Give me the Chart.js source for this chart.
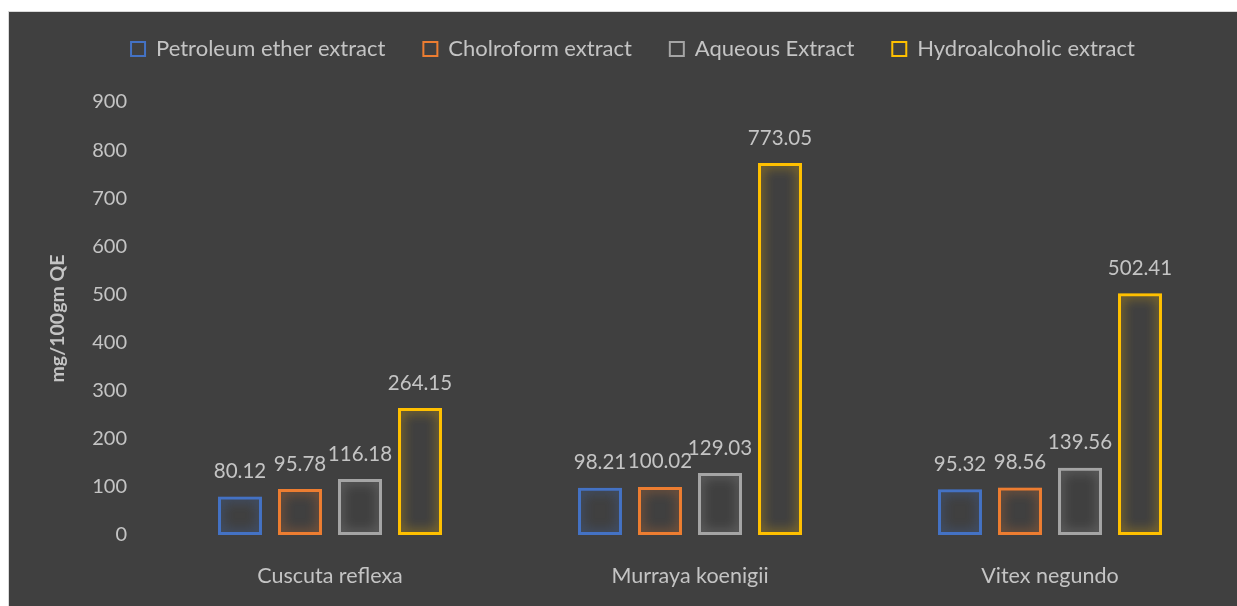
<!DOCTYPE html>
<html>
<head>
<meta charset="utf-8">
<script src="https://cdn.jsdelivr.net/npm/chart.js@4.4.0/dist/chart.umd.min.js"></script>
<style>
  html, body { margin:0; padding:0; background:#ffffff; width:1237px; height:606px; overflow:hidden; }
  #panel { position:absolute; left:8px; top:11px; width:1240px; height:600px; background:#404040; border-left:1px solid #d9d9d9; border-top:1px solid #d9d9d9; box-sizing:border-box; }
  #wrap { position:absolute; left:8px; top:0px; width:1229px; height:606px; }
</style>
</head>
<body>
<div id="panel"></div>
<div id="wrap"><canvas id="c" width="1229" height="606"></canvas></div>
<script>
const categories = ["Cuscuta reflexa", "Murraya koenigii", "Vitex negundo"];
const seriesNames = ["Petroleum ether extract", "Cholroform extract", "Aqueous Extract", "Hydroalcoholic extract"];
const petroleumEther = [80.12, 98.21, 95.32];
const chloroform = [95.78, 100.02, 98.56];
const aqueous = [116.18, 129.03, 139.56];
const hydroalcoholic = [264.15, 773.05, 502.41];
const yTicks = [0, 100, 200, 300, 400, 500, 600, 700, 800, 900];
const yTitle = "mg/100gm QE";

const colors = ["#4472c4", "#ed7d31", "#a5a5a5", "#ffc000"];
const glows = ["rgba(68,114,196,0.8)", "rgba(237,125,49,0.8)", "rgba(165,165,165,0.8)", "rgba(255,192,0,0.85)"];
const values = [petroleumEther, chloroform, aqueous, hydroalcoholic];
const textColor = "#c4c4c4";
const FONT = "Lato, 'Open Sans', sans-serif";

const glowPlugin = {
  id: 'glow',
  beforeDatasetDraw(chart, args) {
    const ctx = chart.ctx;
    ctx.save();
    ctx.shadowColor = glows[args.index];
    ctx.shadowBlur = 12;
  },
  afterDatasetDraw(chart) { chart.ctx.restore(); }
};

const legendSpacer = {
  id: 'legendSpacer',
  afterInit(chart) {
    const lg = chart.legend;
    if (!lg) return;
    const origFit = lg.fit;
    lg.fit = function () { origFit.call(this); this.height += 32; };
    const origDraw = lg.draw;
    lg.draw = function () {
      const ctx = this.ctx;
      ctx.save();
      ctx.translate(14, 0);
      origDraw.apply(this, arguments);
      ctx.restore();
    };
  }
};

const labelPlugin = {
  id: 'valueLabels',
  afterDatasetsDraw(chart) {
    const ctx = chart.ctx;
    ctx.save();
    ctx.fillStyle = textColor;
    ctx.font = "20.5px " + FONT;
    ctx.textAlign = 'center';
    ctx.textBaseline = 'middle';
    chart.data.datasets.forEach((ds, i) => {
      const meta = chart.getDatasetMeta(i);
      meta.data.forEach((bar, j) => {
        ctx.fillText(ds.data[j].toFixed(2), bar.x, bar.y - 25);
      });
    });
    ctx.restore();
  }
};

new Chart(document.getElementById('c'), {
  type: 'bar',
  data: {
    labels: categories,
    datasets: seriesNames.map((n, i) => ({
      label: n,
      data: values[i],
      backgroundColor: 'rgba(0,0,0,0)',
      borderColor: colors[i],
      borderWidth: 3,
      borderSkipped: false,
      categoryPercentage: 0.6667,
      barPercentage: 0.733
    }))
  },
  options: {
    responsive: false,
    animation: false,
    devicePixelRatio: 1,
    layout: { padding: { left: 0, right: 7, top: 0, bottom: 0 } },
    plugins: {
      tooltip: { enabled: false },
      legend: {
        position: 'top',
        labels: {
          color: textColor,
          font: { family: FONT, size: 22 },
          boxWidth: 14,
          boxHeight: 14,
          padding: 38,
          generateLabels(chart) {
            return chart.data.datasets.map((ds, i) => ({
              text: ds.label,
              fillStyle: 'rgba(0,0,0,0)',
              strokeStyle: colors[i],
              lineWidth: 2,
              fontColor: textColor,
              datasetIndex: i,
              hidden: false
            }));
          }
        }
      }
    },
    scales: {
      x: {
        grid: { display: false, drawTicks: false },
        border: { display: false },
        ticks: { color: textColor, font: { family: FONT, size: 21.5 }, padding: 28 },
        afterFit(s) { s.height = 71; }
      },
      y: {
        min: 0, max: 900,
        afterBuildTicks(s) { s.ticks = yTicks.map(v => ({ value: v })); },
        grid: { display: false, drawTicks: false },
        border: { display: false },
        ticks: { color: textColor, font: { family: FONT, size: 20 }, padding: 23 },
        title: { display: true, text: yTitle, color: textColor, font: { family: FONT, size: 19.5, weight: 'bold' }, padding: { top: 38, bottom: 0 } },
        afterFit(s) { s.width = 142; }
      }
    }
  },
  plugins: [legendSpacer, glowPlugin, labelPlugin]
});
</script>
</body>
</html>
